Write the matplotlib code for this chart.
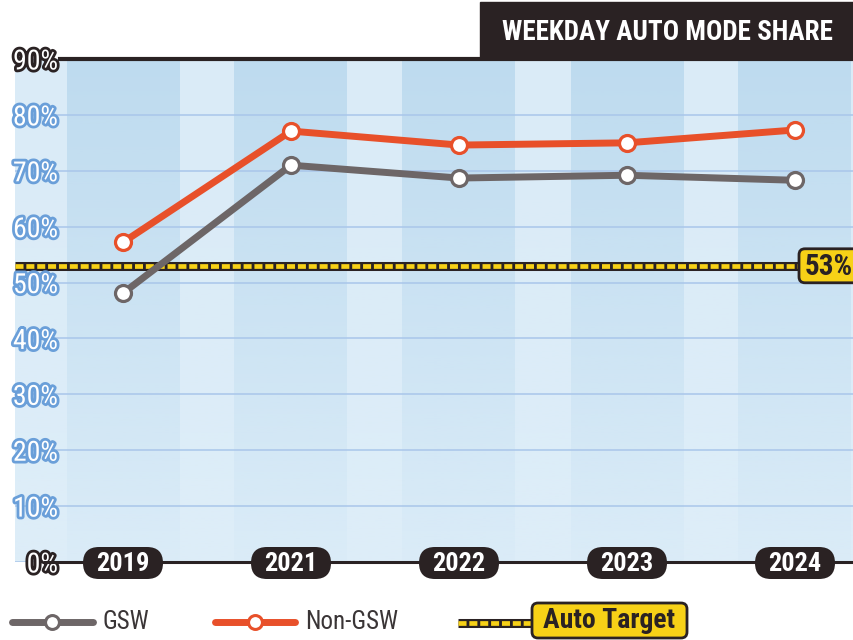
import matplotlib
import numpy as np

matplotlib.use("Agg")
import matplotlib.pyplot as plt
import matplotlib.patheffects as pe
from matplotlib import font_manager
from matplotlib.patches import FancyBboxPatch, Rectangle
from matplotlib.lines import Line2D


YEARS = ["2019", "2021", "2022", "2023", "2024"]
GSW = [48.1, 71.0, 68.7, 69.2, 68.3]
NON_GSW = [57.2, 77.1, 74.6, 75.0, 77.3]
TARGET = 53
Y_TICKS = [0, 10, 20, 30, 40, 50, 60, 70, 80, 90]

TITLE = "WEEKDAY AUTO MODE SHARE"

GRAY = "#6d6667"
ORANGE = "#e8502a"
YELLOW = "#f7d117"
INK = "#2a2223"
BAND_DARK = "#bedbef"
BAND_LIGHT = "#daebf7"
GRID = "#a9c6ea"
TICK_BLUE = "#6a9fd9"

W, H = 854, 640


def pick_font():
    names = {f.name for f in font_manager.fontManager.ttflist}
    for name in ["Roboto Condensed", "Liberation Sans Narrow", "DejaVu Sans Condensed"]:
        if name in names:
            return name
    return "Liberation Sans"


FONT = pick_font()
plt.rcParams["font.family"] = [FONT, "DejaVu Sans"]

fig = plt.figure(figsize=(W / 100, H / 100), dpi=100)

# data axes in pixel terms: x 15..854, y 59..562
ax = fig.add_axes([15 / W, 1 - 562 / H, 1 - 15 / W, (562 - 59) / H])
x = np.arange(len(YEARS))
step = 168
x_left = (15 - 123) / step
x_right = (854 - 123) / step
ax.set_xlim(x_left, x_right)
ax.set_ylim(0, 90)
ax.set_facecolor(BAND_LIGHT)
for s in ax.spines.values():
    s.set_visible(False)

# column bands centred on each year
half = 56.5 / step
for xi in x:
    ax.axvspan(xi - half, xi + half, color=BAND_DARK, lw=0, zorder=0)

# fade toward the bottom
fade = np.zeros((200, 1, 4))
fade[..., :3] = matplotlib.colors.to_rgb("#deeef9")
fade[:, 0, 3] = np.linspace(0, 0.9, 200)
ax.imshow(fade, extent=(x_left, x_right, 0, 90), aspect="auto", origin="upper", zorder=0.5)

ax.set_yticks(Y_TICKS)
ax.yaxis.grid(True, color=GRID, lw=1.1, zorder=1)
ax.set_axisbelow(False)
ax.set_xticks([])
ax.tick_params(axis="y", length=0, pad=-31)
labels = [f"{t}%" for t in Y_TICKS]
ax.set_yticklabels(labels)
for lab, t in zip(ax.get_yticklabels(), Y_TICKS):
    lab.set_fontsize(20)
    lab.set_color("white")
    lab.set_zorder(6)
    edge = INK if t in (0, 90) else TICK_BLUE
    lab.set_path_effects([pe.Stroke(linewidth=4, foreground=edge), pe.Normal()])

# top and base rules
ax.axhline(90, xmin=(60 - 15) / 839, color=INK, lw=3, clip_on=False, zorder=5)
ax.axhline(0, xmin=(45 - 15) / 839, color=INK, lw=2.2, clip_on=False, zorder=5)

# target line
tmax = (799 - 15) / 839
ax.axhline(TARGET, xmax=tmax, color=INK, lw=6.5, zorder=2, solid_capstyle="butt")
ax.axhline(TARGET, xmax=tmax, color=YELLOW, lw=3.4, zorder=2.1,
           dashes=(1.7, 0.6), dash_capstyle="butt")

ax.plot(x, NON_GSW, color=ORANGE, lw=5, marker="o", ms=11.5, mfc="white",
        mec=ORANGE, mew=2.3, zorder=4, clip_on=False)
ax.plot(x, GSW, color=GRAY, lw=5, marker="o", ms=11.5, mfc="white",
        mec=GRAY, mew=2.3, zorder=3, clip_on=False)

# overlay in pixel units for boxes and legend
ov = fig.add_axes([0, 0, 1, 1], facecolor="none")
ov.set_xlim(0, W)
ov.set_ylim(H, 0)
ov.axis("off")


def to_px(px, py):
    return ov.transData.inverted().transform(ax.transData.transform((px, py)))


# title box
ov.add_patch(Rectangle((480, 2), W - 480, 57, color=INK, zorder=5))
ov.text(667, 32, TITLE, color="white", fontsize=19.5, fontweight="bold",
        ha="center", va="center", zorder=6)

# year pills
for xi, year in zip(x, YEARS):
    cx, cy = to_px(xi, 0)
    ov.add_patch(FancyBboxPatch((cx - 40, cy - 15), 80, 32,
                                boxstyle="round,pad=0,rounding_size=16",
                                fc=INK, ec="none", zorder=5))
    ov.text(cx, cy + 2, year, color="white", fontsize=19, fontweight="bold",
            ha="center", va="center", zorder=6)

# target tag
tx, ty = to_px(x_left + tmax * (x_right - x_left), TARGET)
ov.add_patch(FancyBboxPatch((tx, ty - 17), 70, 34,
                            boxstyle="round,pad=0,rounding_size=6",
                            fc=YELLOW, ec=INK, lw=2, zorder=5))
ov.text(tx + 6, ty + 1, f"{TARGET}%", color=INK, fontsize=21, fontweight="bold",
        ha="left", va="center", zorder=6)

# legend
ly = 622
for x0, x1, col, name in [(12, 93, GRAY, "GSW"), (215, 295, ORANGE, "Non-GSW")]:
    ov.add_line(Line2D([x0, x1], [ly, ly], color=col, lw=5, solid_capstyle="round"))
    ov.add_line(Line2D([(x0 + x1) / 2], [ly], marker="o", ms=10, mfc="white",
                       mec=col, mew=2.2, lw=0))
    ov.text(x1 + 10, ly, name, color="#3a3536", fontsize=18, ha="left", va="center")

ov.add_line(Line2D([458, 533], [623, 623], color=INK, lw=6.5, solid_capstyle="butt"))
ov.add_line(Line2D([458, 533], [623, 623], color=YELLOW, lw=3.4,
                   dashes=(1.7, 0.6), dash_capstyle="butt"))
ov.add_patch(FancyBboxPatch((532, 603), 155, 35,
                            boxstyle="round,pad=0,rounding_size=6",
                            fc=YELLOW, ec=INK, lw=2, zorder=5))
ov.text(609.5, 621, "Auto Target", color=INK, fontsize=20, fontweight="bold",
        ha="center", va="center", zorder=6)

fig.savefig("out.png", dpi=100)
